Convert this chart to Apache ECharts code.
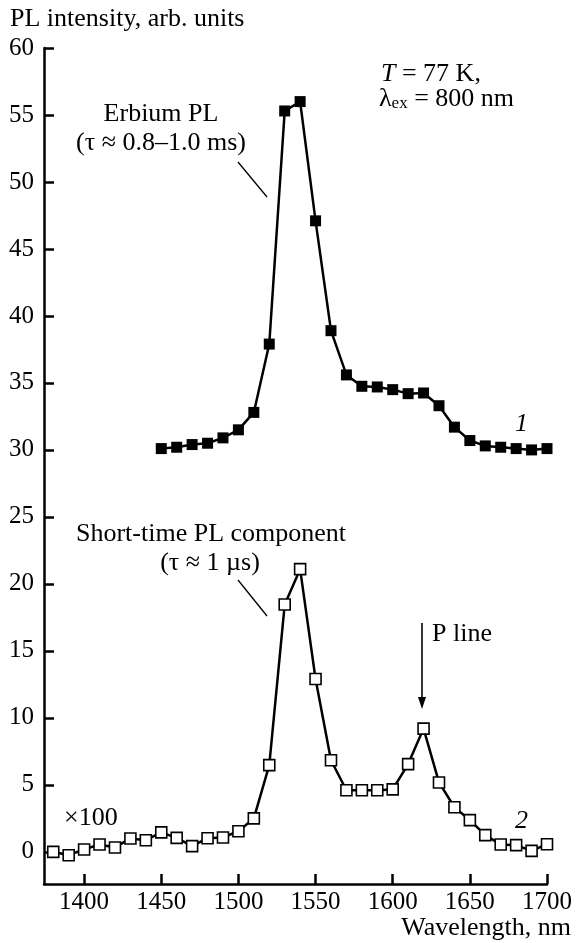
<!DOCTYPE html>
<html>
<head>
<meta charset="utf-8">
<script src="https://cdn.jsdelivr.net/npm/echarts@6/dist/echarts.min.js"></script>
<style>
  html, body { margin: 0; padding: 0; background: #fff; }
  #chart { width: 576px; height: 943px; }
</style>
</head>
<body>
<div id="chart"></div>
<script>
// curve 1: erbium PL
const wavelength1 = [1450, 1460, 1470, 1480, 1490, 1500, 1510, 1520, 1530, 1540, 1550, 1560, 1570,
  1580, 1590, 1600, 1610, 1620, 1630, 1640, 1650, 1660, 1670, 1680, 1690, 1700];
const erbiumPL = [30.1, 30.2, 30.4, 30.5, 30.9, 31.5, 32.8, 37.9, 55.3, 56.0, 47.1, 38.9, 35.6,
  34.75, 34.7, 34.5, 34.2, 34.25, 33.3, 31.7, 30.7, 30.3, 30.2, 30.1, 30.0, 30.1];

// curve 2: short-time component (x100)
const wavelength2 = [1380, 1390, 1400, 1410, 1420, 1430, 1440, 1450, 1460, 1470, 1480, 1490, 1500,
  1510, 1520, 1530, 1540, 1550, 1560, 1570, 1580, 1590, 1600, 1610, 1620, 1630, 1640, 1650, 1660,
  1670, 1680, 1690, 1700];
const shortPL = [0.0, -0.25, 0.18, 0.55, 0.33, 1.0, 0.87, 1.45, 1.04, 0.43, 1.02, 1.07, 1.54,
  2.5, 6.47, 18.46, 21.1, 12.9, 6.84, 4.6, 4.6, 4.6, 4.66, 6.55, 9.2, 5.18, 3.33, 2.37, 1.25,
  0.55, 0.5, 0.07, 0.57];

const xTicks = [1400, 1450, 1500, 1550, 1600, 1650, 1700];
const yTicks = [0, 5, 10, 15, 20, 25, 30, 35, 40, 45, 50, 55, 60];

const FONT = '"Liberation Serif", "DejaVu Serif", serif';

const chart = echarts.init(document.getElementById('chart'));

const axisCommon = {
  type: 'value',
  splitLine: { show: false },
  axisLine: { show: true, onZero: false, lineStyle: { color: '#000', width: 2.5 } },
  axisTick: { show: true, inside: true, length: 10, lineStyle: { color: '#000', width: 2.5 } },
};

function txt(text, x, y, extra) {
  return {
    type: 'text',
    x: x, y: y,
    style: Object.assign({
      text: text,
      font: '26px ' + FONT,
      fill: '#000',
      textAlign: 'left',
      textVerticalAlign: 'middle'
    }, extra || {})
  };
}

function seg(x1, y1, x2, y2) {
  return {
    type: 'line',
    shape: { x1: x1, y1: y1, x2: x2, y2: y2 },
    style: { stroke: '#000', lineWidth: 1.3 }
  };
}

const option = {
  animation: false,
  backgroundColor: '#fff',
  grid: { left: 44, right: 29, top: 48, bottom: 59, containLabel: false },
  xAxis: Object.assign({}, axisCommon, {
    min: 1374,
    max: 1700,
    axisTick: Object.assign({}, axisCommon.axisTick, { customValues: xTicks }),
    axisLabel: {
      customValues: xTicks,
      formatter: v => String(v),
      color: '#000',
      fontFamily: FONT,
      fontSize: 25,
      margin: 6
    }
  }),
  yAxis: Object.assign({}, axisCommon, {
    min: -2.4,
    max: 60,
    axisTick: Object.assign({}, axisCommon.axisTick, { customValues: yTicks }),
    axisLabel: {
      customValues: yTicks,
      color: '#000',
      fontFamily: FONT,
      fontSize: 25,
      margin: 10
    }
  }),
  series: [
    {
      type: 'line',
      data: wavelength1.map((w, i) => [w, erbiumPL[i]]),
      symbol: 'rect',
      symbolSize: 11,
      showAllSymbol: true,
      lineStyle: { color: '#000', width: 2.5 },
      itemStyle: { color: '#000', borderColor: '#000', borderWidth: 0 }
    },
    {
      type: 'line',
      data: wavelength2.map((w, i) => [w, shortPL[i]]),
      symbol: 'rect',
      symbolSize: 11,
      showAllSymbol: true,
      lineStyle: { color: '#000', width: 2.5 },
      itemStyle: { color: '#fff', borderColor: '#000', borderWidth: 1.6 }
    }
  ],
  graphic: [
    txt('PL intensity, arb. units', 10, 19),
    txt('Erbium PL', 161, 114, { textAlign: 'center' }),
    txt('(τ ≈ 0.8–1.0 ms)', 161, 143, { textAlign: 'center' }),
    seg(238, 162, 267, 197),
    {
      type: 'text',
      x: 381, y: 74,
      style: {
        text: '{i|T} = 77 K,',
        font: '26px ' + FONT,
        fill: '#000',
        textVerticalAlign: 'middle',
        rich: { i: { fontStyle: 'italic', fontFamily: FONT, fontSize: 26 } }
      }
    },
    {
      type: 'text',
      x: 379, y: 99,
      style: {
        text: 'λ{s|ex} = 800 nm',
        font: '26px ' + FONT,
        fill: '#000',
        textVerticalAlign: 'middle',
        rich: { s: { fontFamily: FONT, fontSize: 17, verticalAlign: 'bottom', lineHeight: 26 } }
      }
    },
    txt('1', 515, 424, { font: 'italic 26px ' + FONT }),
    txt('Short-time PL component', 211, 534, { textAlign: 'center' }),
    txt('(τ ≈ 1 µs)', 210, 563, { textAlign: 'center' }),
    seg(238, 580, 267, 616),
    txt('P line', 432, 634),
    {
      type: 'line',
      shape: { x1: 422, y1: 623, x2: 422, y2: 700 },
      style: { stroke: '#000', lineWidth: 1.6 }
    },
    {
      type: 'polygon',
      shape: { points: [[418, 697], [426, 697], [422, 709]] },
      style: { fill: '#000' }
    },
    txt('×100', 64, 818),
    txt('2', 515, 821, { font: 'italic 26px ' + FONT }),
    txt('Wavelength, nm', 571, 928, { textAlign: 'right' })
  ]
};

chart.setOption(option);
</script>
</body>
</html>
